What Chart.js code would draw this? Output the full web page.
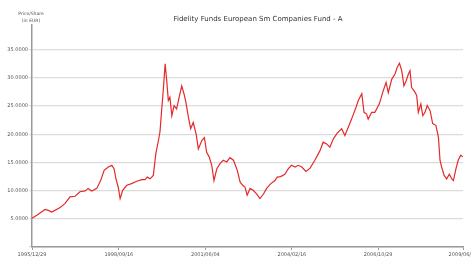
<!DOCTYPE html>
<html>
<head>
<meta charset="utf-8">
<script src="https://cdn.jsdelivr.net/npm/chart.js@4/dist/chart.umd.min.js"></script>
<style>
  html, body { margin: 0; padding: 0; background: #fff; overflow: hidden; }
  #wrap { width: 471px; height: 261px; }
</style>
</head>
<body>
<div id="wrap"><canvas id="fondo" width="471" height="261"></canvas></div>
<script>
// fechas en años decimales, precio por participación (EUR)
const anios = [
  1995.99, 1996.14, 1996.40, 1996.50, 1996.61, 1996.87, 1997.02, 1997.18, 1997.34, 1997.49,
  1997.65, 1997.75, 1997.86, 1998.02, 1998.14, 1998.25, 1998.38, 1998.49, 1998.56, 1998.62,
  1998.69, 1998.75, 1998.83, 1998.96, 1999.11, 1999.27, 1999.43, 1999.53, 1999.60, 1999.69,
  1999.79, 1999.87, 1999.95, 2000.00, 2000.05, 2000.10, 2000.16, 2000.21, 2000.26, 2000.31,
  2000.37, 2000.44, 2000.52, 2000.60, 2000.68, 2000.75, 2000.81, 2000.89, 2000.96, 2001.04,
  2001.13, 2001.20, 2001.31, 2001.39, 2001.46, 2001.54, 2001.62, 2001.69, 2001.78, 2001.88,
  2001.98, 2002.09, 2002.19, 2002.30, 2002.42, 2002.51, 2002.59, 2002.66, 2002.73, 2002.82,
  2002.92, 2003.03, 2003.13, 2003.24, 2003.34, 2003.47, 2003.60, 2003.67, 2003.78, 2003.91,
  2004.02, 2004.12, 2004.23, 2004.33, 2004.44, 2004.57, 2004.70, 2004.85, 2005.01, 2005.11,
  2005.22, 2005.32, 2005.43, 2005.55, 2005.69, 2005.79, 2005.90, 2006.00, 2006.14, 2006.21,
  2006.32, 2006.39, 2006.47, 2006.52, 2006.63, 2006.73, 2006.87, 2006.99, 2007.08, 2007.15,
  2007.26, 2007.36, 2007.43, 2007.50, 2007.57, 2007.64, 2007.71, 2007.78, 2007.83, 2007.88,
  2007.96, 2008.04, 2008.09, 2008.17, 2008.23, 2008.30, 2008.37, 2008.46, 2008.54, 2008.64,
  2008.72, 2008.77, 2008.82, 2008.90, 2008.98, 2009.06, 2009.14, 2009.19, 2009.27, 2009.34,
  2009.42, 2009.48
];
const precios = [
  5.1, 5.65, 6.66, 6.5, 6.2, 7.0, 7.7, 8.9, 9.0, 9.8,
  9.95, 10.4, 9.95, 10.4, 11.8, 13.6, 14.2, 14.5, 13.9, 12.1,
  10.65, 8.6, 10.07, 10.95, 11.25, 11.66, 11.96, 11.96, 12.4, 12.1,
  12.7, 16.6, 18.9, 20.5, 24.2, 27.7, 32.5, 29.5, 26.0, 26.6,
  23.3, 25.1, 24.5, 26.6, 28.6, 27.2, 25.7, 23.0, 21.0, 22.1,
  20.1, 17.4, 18.9, 19.4, 16.8, 16.0, 14.5, 11.8, 13.9, 14.8,
  15.4, 15.1, 15.85, 15.4, 13.6, 11.5, 10.95, 10.65, 9.2, 10.4,
  10.07, 9.4, 8.6, 9.4, 10.4, 11.25, 11.8, 12.4, 12.5, 12.9,
  13.9, 14.5, 14.2, 14.5, 14.2, 13.4, 14.0, 15.4, 17.1, 18.6,
  18.3, 17.7, 19.2, 20.2, 21.0, 19.8, 21.3, 22.7, 24.8, 26.0,
  27.2, 23.9, 23.6, 22.7, 23.9, 23.9, 25.4, 27.7, 29.2, 27.4,
  29.8, 30.7, 31.9, 32.6, 31.3, 28.6, 29.5, 30.7, 31.3, 28.3,
  27.7, 26.9, 23.9, 25.4, 23.3, 23.9, 25.1, 24.2, 21.9, 21.6,
  19.5, 15.4, 14.2, 12.7, 12.1, 12.9, 12.1, 11.8, 13.9, 15.4,
  16.3, 16.0
];
const ticksX = [1995.99, 1998.71, 2001.42, 2004.13, 2006.83, 2009.49];
const etiquetasX = ['1995/12/29', '1998/09/16', '2001/06/04', '2004/02/16', '2006/10/29', '2009/06/28'];
const ticksY = [0, 5, 10, 15, 20, 25, 30, 35];

const titulo = 'Fidelity Funds European Sm Companies Fund - A';
const tituloY = ['Price/Share', '(in EUR)'];

// textos de cabecera
const cabecera = {
  id: 'cabecera',
  afterDraw(chart) {
    const ctx = chart.ctx;
    ctx.save();
    ctx.fillStyle = '#333';
    ctx.textAlign = 'center';
    ctx.textBaseline = 'middle';
    ctx.font = '7px "DejaVu Sans"';
    ctx.fillText(titulo, 258, 19);
    ctx.fillStyle = '#555';
    ctx.font = '4.5px "DejaVu Sans"';
    ctx.fillText(tituloY[0], 31, 14);
    ctx.fillText(tituloY[1], 31, 20.5);
    ctx.restore();
  }
};

new Chart(document.getElementById('fondo'), {
  type: 'line',
  data: {
    datasets: [{
      data: anios.map((a, i) => ({ x: a, y: precios[i] })),
      borderColor: '#e42a2a',
      borderWidth: 1.2,
      pointRadius: 0,
      tension: 0,
      fill: false
    }]
  },
  options: {
    responsive: false,
    animation: false,
    devicePixelRatio: 1,
    layout: { padding: { left: 0, right: 8, top: 25, bottom: 0 } },
    plugins: { legend: { display: false }, tooltip: { enabled: false } },
    scales: {
      x: {
        type: 'linear',
        min: ticksX[0],
        max: ticksX[ticksX.length - 1],
        afterBuildTicks: s => { s.ticks = ticksX.map(v => ({ value: v })); },
        afterFit: s => { s.height = 14; s.paddingLeft = 0; s.paddingRight = 0; },
        grid: { drawOnChartArea: false, tickLength: 3, color: '#999' },
        border: { color: '#999', width: 1.5 },
        ticks: {
          autoSkip: false,
          maxRotation: 0,
          padding: 2,
          color: '#555',
          font: { size: 5, family: 'DejaVu Sans' },
          callback: (v, i) => etiquetasX[i]
        }
      },
      y: {
        min: 0,
        max: 39.4,
        afterBuildTicks: s => { s.ticks = ticksY.map(v => ({ value: v })); },
        afterFit: s => { s.width = 32; },
        grid: { color: '#dcdcdc', lineWidth: 1.3, tickLength: 3 },
        border: { color: '#999', width: 1.5 },
        ticks: {
          padding: 1,
          color: '#555',
          font: { size: 5, family: 'DejaVu Sans' },
          callback: v => (v === 0 ? '' : v.toFixed(4))
        }
      }
    }
  },
  plugins: [cabecera]
});
</script>
</body>
</html>
